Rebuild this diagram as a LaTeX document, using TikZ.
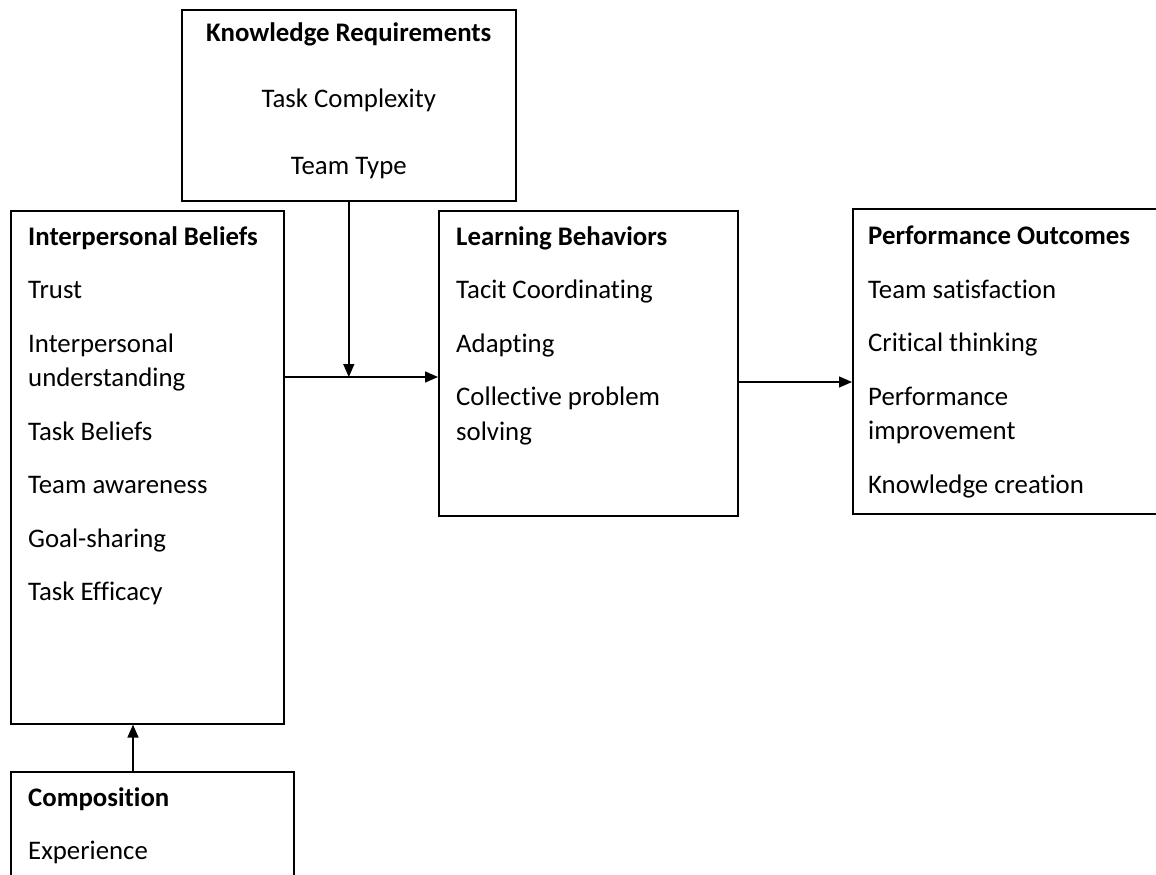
\documentclass[tikz,border=0pt]{standalone}
\usepackage{fontspec}
\setmainfont[Ligatures=NoCommon]{Carlito}
\usetikzlibrary{arrows.meta,positioning}
\tikzset{
  box/.style={draw, line width=1.6pt, anchor=north west, inner sep=0pt},
  items/.style={inner sep=0pt, align=left, font=\fontsize{26.8}{34.5}\selectfont},
  arr/.style={line width=1.4pt, -{Triangle[length=13pt,width=11pt]}}
}
\begin{document}
\begin{tikzpicture}[x=1pt,y=-1pt]
    \useasboundingbox (0,0) rectangle (1156,875);
    % boxes
    \node[box, minimum width=334pt, minimum height=191pt] (knowreq) at (181,9) {};
    \node[box, minimum width=273pt, minimum height=513pt] (beliefs) at (10,210) {};
    \node[box, minimum width=299pt, minimum height=305pt] (behav) at (438,210) {};
    \node[box, minimum width=320pt, minimum height=305pt] (outcomes) at (852,208) {};
    \node[box, minimum width=283pt, minimum height=130pt] (compos) at (10,771) {};
    % texts
    \node[items, align=center, below=13pt of knowreq.north] (knowtext)
        {\textbf{Knowledge Requirements}\\[32pt]
         Task Complexity\\[32pt]
         Team Type};
    \node[items, below right=16pt and 18pt of beliefs.north west] (beliefstext)
        {\textbf{Interpersonal Beliefs}\\[19pt]
         Trust\\[19pt]
         Interpersonal\\
         understanding\\[19pt]
         Task Beliefs\\[19pt]
         Team awareness\\[19pt]
         Goal-sharing\\[19pt]
         Task Efficacy};
    \node[items, below right=16pt and 18pt of behav.north west] (behavtext)
        {\textbf{Learning Behaviors}\\[19pt]
         Tacit Coordinating\\[19pt]
         Adapting\\[19pt]
         Collective problem\\
         solving};
    \node[items, below right=18pt and 16pt of outcomes.north west] (outcomestext)
        {\textbf{Performance Outcomes}\\[19pt]
         Team satisfaction\\[19pt]
         Critical thinking\\[19pt]
         Performance\\
         improvement\\[19pt]
         Knowledge creation};
    \node[items, below right=16pt and 18pt of compos.north west] (compostext)
        {\textbf{Composition}\\[19pt]
         Experience};
    % connectors
    \coordinate (join) at (knowreq.south |- 0,377);
    \coordinate (up) at (133,0);
    \draw[arr] (knowreq.south) -- (join);
    \draw[arr] (beliefs.east |- join) -- (behav.west |- join);
    \draw[arr] (behav.east |- 0,382) -- (outcomes.west |- 0,382);
    \draw[arr] (compos.north -| up) -- (beliefs.south -| up);
\end{tikzpicture}
\end{document}
